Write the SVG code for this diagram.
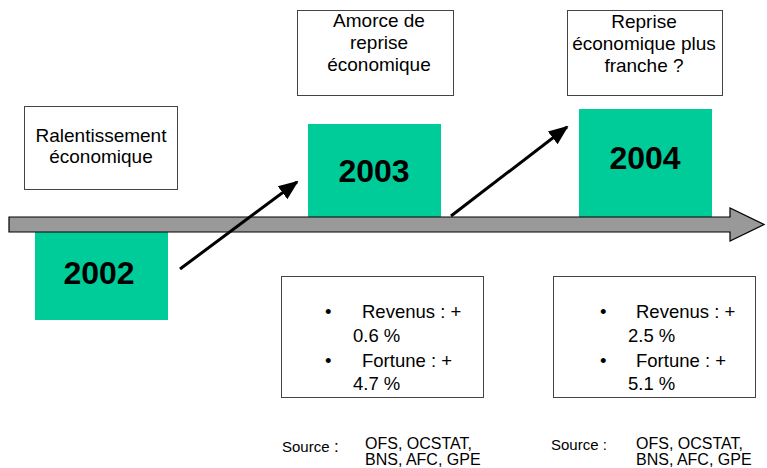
<svg xmlns="http://www.w3.org/2000/svg" width="767" height="468" viewBox="0 0 767 468">
  <defs>
    <marker id="head" markerUnits="userSpaceOnUse" markerWidth="20" markerHeight="20" viewBox="0 0 20 20" refX="18" refY="10" orient="auto">
      <path d="M0,2 L20,10 L0,18 Z" fill="#000"/>
    </marker>
  </defs>
  <style>
    text { font-family: "Liberation Sans", Arial, sans-serif; fill: #000; }
    .box { fill: #fff; stroke: #444; stroke-width: 1; }
    .year { fill: #00CC99; }
    .yt { font-size: 32px; font-weight: bold; text-anchor: middle; }
    .lbl { font-size: 19px; text-anchor: middle; }
    .bul { font-size: 18.5px; }
    .src { font-size: 15px; }
    .org { font-size: 16px; }
    .conn { stroke: #000; stroke-width: 3; fill: none; marker-end: url(#head); }
  </style>
  <rect width="767" height="468" fill="#fff"/>

  <!-- year blocks -->
  <g id="y2003"><rect class="year" x="308" y="124" width="133" height="94"/><text class="yt" x="374" y="182">2003</text></g>
  <g id="y2004"><rect class="year" x="579" y="109" width="133" height="109"/><text class="yt" x="645" y="169">2004</text></g>
  <g id="y2002"><rect class="year" x="35" y="226" width="133" height="94"/><text class="yt" x="99" y="284">2002</text></g>

  <!-- time axis -->
  <g id="timeline">
    <path d="M9,217 L730,217 L730,208 L764,224.5 L730,241 L730,232 L9,232 Z" fill="#999" stroke="#000" stroke-width="1.2"/>
  </g>

  <!-- phase labels -->
  <g id="phase2002"><rect class="box" x="24.5" y="106.5" width="153" height="83"/>
    <text class="lbl" x="101" y="142">Ralentissement</text><text class="lbl" x="101" y="163">économique</text></g>
  <g id="phase2003"><rect class="box" x="297.5" y="10.5" width="156" height="85"/>
    <text class="lbl" x="379" y="27">Amorce de</text><text class="lbl" x="379" y="49">reprise</text><text class="lbl" x="379" y="71">économique</text></g>
  <g id="phase2004"><rect class="box" x="567.5" y="10.5" width="155" height="85"/>
    <text class="lbl" x="644" y="28">Reprise</text><text class="lbl" x="644" y="50">économique plus</text><text class="lbl" x="644" y="72">franche ?</text></g>

  <!-- indicators -->
  <g id="stats2003"><rect class="box" x="281.5" y="276.5" width="202" height="121"/>
    <text class="bul" x="325" y="318">•</text><text class="bul" x="362" y="318">Revenus : +</text>
    <text class="bul" x="353" y="342">0.6 %</text>
    <text class="bul" x="325" y="367">•</text><text class="bul" x="362" y="367">Fortune : +</text>
    <text class="bul" x="353" y="390">4.7 %</text></g>
  <g id="stats2004"><rect class="box" x="553.5" y="276.5" width="202" height="121"/>
    <text class="bul" x="600" y="318">•</text><text class="bul" x="636" y="318">Revenus : +</text>
    <text class="bul" x="628" y="342">2.5 %</text>
    <text class="bul" x="600" y="367">•</text><text class="bul" x="636" y="367">Fortune : +</text>
    <text class="bul" x="628" y="390">5.1 %</text></g>

  <!-- sources -->
  <g id="source2003"><text class="src" y="452"><tspan x="282">Source</tspan><tspan x="334" font-size="17px">:</tspan></text>
    <text class="org" x="365" y="449">OFS, OCSTAT,</text><text class="org" x="365" y="465">BNS, AFC, GPE</text></g>
  <g id="source2004"><text class="src" x="551" y="450">Source :</text>
    <text class="org" x="636" y="449">OFS, OCSTAT,</text><text class="org" x="636" y="465">BNS, AFC, GPE</text></g>

  <!-- connectors -->
  <g id="connectors">
    <line class="conn" x1="180" y1="269" x2="297" y2="182"/>
    <line class="conn" x1="451" y1="216" x2="567" y2="127"/>
  </g>
</svg>
